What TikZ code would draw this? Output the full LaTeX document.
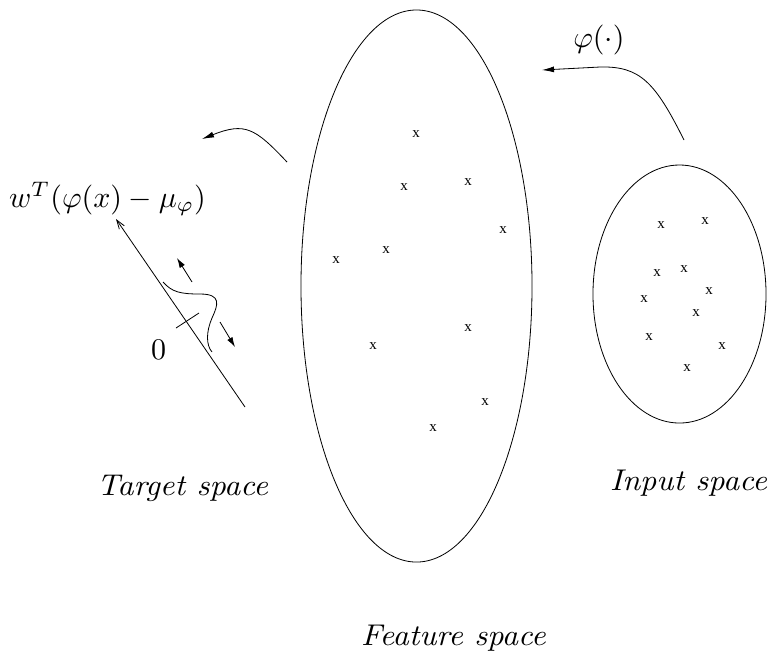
\documentclass[tikz,border=0pt]{standalone}
\usepackage{graphicx}
\usepackage{fontspec}
\newfontfamily\xfont{Liberation Serif}
\usetikzlibrary{arrows.meta,shapes.geometric}
\newcommand{\wide}[1]{\scalebox{1.06}[1]{#1}}
\begin{document}
\begin{tikzpicture}[x=0.3333pt,y=-0.3333pt,
  spaceell/.style={draw, ellipse, line width=0.27pt, inner sep=0pt},
  xm/.style={font=\xfont\fontsize{5}{5}\selectfont, inner sep=0pt},
  lbl/.style={font=\normalsize, inner sep=0pt, anchor=base},
  ilbl/.style={font=\normalsize\itshape, inner sep=0pt, anchor=base},
  conn/.style={line width=0.27pt},
  fat/.style={conn, -{Latex[length=4pt,width=2pt]}},
  thin/.style={conn, -{Straight Barb[length=3pt,width=2pt]}}]
\useasboundingbox (0,0) rectangle (770,656);
% ellipses
\node[spaceell, minimum width=77pt, minimum height=184pt] (feat) at (416.5,286) {};
\node[spaceell, minimum width=57.67pt, minimum height=86pt] (inp) at (679.5,294) {};
% points in feature space
\foreach \p [count=\i] in {(416,134),(404,187),(468,182),(503,230),(336,260),(386,250),(468,328),(373,346),(485,402),(433,428)}
  \node[xm] (f\i) at \p {x};
% points in input space
\foreach \p [count=\i] in {(661,225),(705,221),(657,273),(684,269),(709,291),(644,299),(696,313),(649,337),(722,346),(687,368)}
  \node[xm] (i\i) at \p {x};
% labels
\node[ilbl] (tlab) at (182.5,495) {\wide{Target space}};
\node[ilbl] (ilab) at (688.5,490) {\wide{Input space}};
\node[ilbl] (flab) at (453.5,645) {\wide{Feature space}};
\node[lbl] (wlab) at (107.5,207) {$w^T(\varphi(x)-\mu_\varphi)$};
\node[lbl] (phil) at (599,47) {$\varphi(\cdot)$};
\node[lbl] (zero) at (158.5,359) {$0$};
% mapping arrows
\coordinate (phiS) at (684,140);
\coordinate (phiE) at (542,70);
\draw[fat] (phiS) .. controls (655,82) and (640,66) .. (600,67) -- (phiE);
\coordinate (wS) at (287,162);
\coordinate (wE) at (202,139);
\draw[fat] (wS) .. controls (255,128) and (245,122) .. (wE);
% target axis
\coordinate (ab) at (245,407);
\coordinate (at) at (116,219);
\draw[thin] (ab) -- (at);
\coordinate (t1) at (176,328);
\coordinate (t2) at (199,313);
\draw[conn] (t1) -- (t2);
% gaussian bump
\coordinate (g1) at (163,282);
\coordinate (g2) at (212,352);
\draw[conn] (g1) .. controls (172,292) and (180,294) .. (200,294)
  .. controls (222,294) and (218,305) .. (212,318)
  .. controls (206,332) and (206,345) .. (g2);
% small arrows
\coordinate (u1) at (192,282);
\coordinate (u2) at (177,258);
\coordinate (d1) at (220,322);
\coordinate (d2) at (235,347);
\draw[conn, -{Latex[length=3.3pt,width=2pt]}] (u1) -- (u2);
\draw[conn, -{Latex[length=3.3pt,width=2pt]}] (d1) -- (d2);
\end{tikzpicture}
\end{document}
